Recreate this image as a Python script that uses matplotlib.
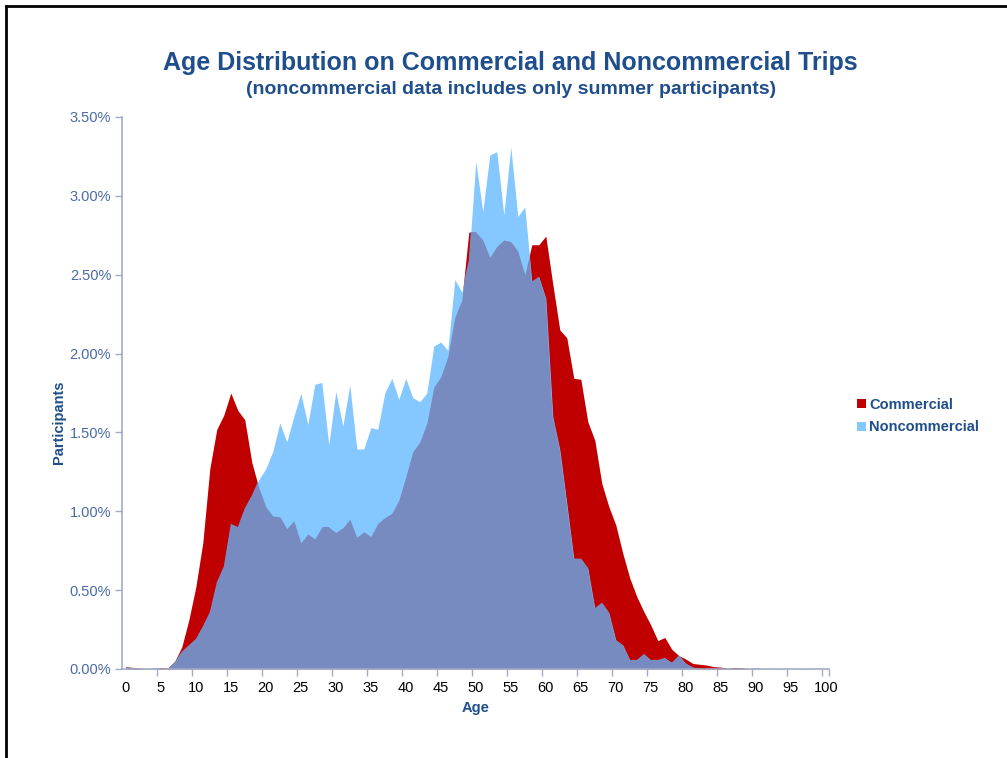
import numpy as np
import matplotlib
matplotlib.use("Agg")
import matplotlib.pyplot as plt
from matplotlib.patches import Patch
from matplotlib.lines import Line2D
from matplotlib.ticker import FixedLocator, FuncFormatter

plt.rcParams['font.family'] = ['Liberation Sans', 'DejaVu Sans']

ages = list(range(0, 101))

commercial = [
    0.015, 0.01, 0.005, 0.0, 0.0, 0.01, 0.005, 0.05, 0.14, 0.31,
    0.52, 0.80, 1.27, 1.52, 1.61, 1.75, 1.64, 1.58, 1.31, 1.15,
    1.03, 0.97, 0.966, 0.89, 0.94, 0.80, 0.856, 0.825, 0.90, 0.90,
    0.866, 0.895, 0.95, 0.835, 0.87, 0.84, 0.924, 0.96, 0.987, 1.07,
    1.22, 1.378, 1.44, 1.557, 1.786, 1.853, 1.98, 2.23, 2.34, 2.77,
    2.77, 2.72, 2.61, 2.68, 2.72, 2.71, 2.65, 2.50, 2.69, 2.69,
    2.745, 2.44, 2.15, 2.10, 1.843, 1.837, 1.568, 1.45, 1.177, 1.03,
    0.913, 0.733, 0.576, 0.459, 0.364, 0.279, 0.18, 0.20, 0.125, 0.085,
    0.063, 0.035, 0.03, 0.025, 0.015, 0.012, 0.004, 0.01, 0.008, 0.0,
    0.0, 0.0, 0.0, 0.0, 0.0, 0.0, 0.0, 0.0, 0.0, 0.0,
    0.0,
]

noncommercial = [
    0.01, 0.005, 0.0, 0.0, 0.01, 0.0, 0.0, 0.046, 0.11, 0.15,
    0.19, 0.27, 0.36, 0.55, 0.65, 0.92, 0.90, 1.02, 1.10, 1.20,
    1.27, 1.38, 1.56, 1.44, 1.60, 1.748, 1.55, 1.805, 1.817, 1.42,
    1.76, 1.54, 1.80, 1.395, 1.395, 1.53, 1.52, 1.75, 1.843, 1.71,
    1.843, 1.72, 1.695, 1.75, 2.048, 2.073, 2.02, 2.47, 2.39, 2.59,
    3.22, 2.90, 3.26, 3.28, 2.88, 3.31, 2.87, 2.93, 2.456, 2.487,
    2.35, 1.60, 1.39, 1.05, 0.70, 0.70, 0.64, 0.385, 0.42, 0.357,
    0.183, 0.152, 0.057, 0.057, 0.095, 0.057, 0.057, 0.07, 0.04, 0.085,
    0.035, 0.01, 0.0, 0.0, 0.0, 0.0, 0.0, 0.0, 0.0, 0.0,
    0.01, 0.0, 0.0, 0.0, 0.0, 0.0, 0.0, 0.0, 0.0, 0.0,
    0.0,
]

x_tick_labels = [str(v) for v in range(0, 101, 5)]
y_ticks = [0.0, 0.5, 1.0, 1.5, 2.0, 2.5, 3.0, 3.5]

RED = '#C00000'
LIGHT = '#85C8FF'
OVERLAP = '#788BC0'
NAVY = '#1F4E8C'
TICKBLUE = '#4A6AA5'
AXISCOL = '#A3AAC6'

fig = plt.figure(figsize=(10.07, 7.58), dpi=100)
ax = fig.add_axes([122.3 / 1007, (758 - 669) / 758, 707 / 1007, 552 / 758])

x = np.array(ages, dtype=float)
c = np.array(commercial)
n = np.array(noncommercial)

ax.fill_between(x, 0, c, color=RED, linewidth=0, zorder=2)
blue = ax.fill_between(x, 0, n, color=LIGHT, linewidth=0, zorder=3)
ov = ax.fill_between(x, 0, c, color=OVERLAP, linewidth=0, zorder=4)
ov.set_clip_path(blue.get_paths()[0], ax.transData)

ax.set_xlim(-0.5, 100.5)
ax.set_ylim(0, 3.5)

# y axis
ax.set_yticks(y_ticks)
ax.yaxis.set_major_formatter(FuncFormatter(lambda v, p: f"{v:.2f}%"))
ax.tick_params(axis='y', which='major', direction='out', length=5, width=1,
               color=AXISCOL, labelcolor=TICKBLUE, labelsize=10.5, pad=3)

# x axis: labels at category centres, tick marks at category boundaries
ax.xaxis.set_major_locator(FixedLocator(list(range(0, 101, 5))))
ax.set_xticklabels(x_tick_labels)
ax.xaxis.set_minor_locator(FixedLocator([v - 0.5 for v in range(5, 101, 5)] + [100.5]))
ax.tick_params(axis='x', which='major', length=0, labelsize=10.5, labelcolor='black', pad=9)
ax.tick_params(axis='x', which='minor', direction='out', length=5, width=1, color=AXISCOL)

for s in ['top', 'right']:
    ax.spines[s].set_visible(False)
for s in ['left', 'bottom']:
    ax.spines[s].set_color(AXISCOL)
    ax.spines[s].set_linewidth(1.2)
    ax.spines[s].set_zorder(6)

ax.set_xlabel('Age', fontsize=10.5, fontweight='bold', color=NAVY, labelpad=4)
ax.set_ylabel('Participants', fontsize=10.5, fontweight='bold', color=NAVY)
ax.yaxis.set_label_coords((66 - 122.3) / 707, (669 - 422) / 552)

fig.text(510 / 1007, 1 - 63 / 758, 'Age Distribution on Commercial and Noncommercial Trips',
         ha='center', va='center', fontsize=18, fontweight='bold', color=NAVY)
fig.text(511 / 1007, 1 - 89 / 758, '(noncommercial data includes only summer participants)',
         ha='center', va='center', fontsize=14, fontweight='bold', color=NAVY)

handles = [Patch(facecolor=RED, edgecolor='none', label='Commercial'),
           Patch(facecolor=LIGHT, edgecolor='none', label='Noncommercial')]
leg = fig.legend(handles=handles, loc='center left', bbox_to_anchor=(857 / 1007, 1 - 416 / 758),
                 frameon=False, fontsize=10.5, handlelength=0.6, handleheight=0.6,
                 handletextpad=0.25, labelspacing=0.6, borderaxespad=0, borderpad=0)
for t in leg.get_texts():
    t.set_color(NAVY)
    t.set_fontweight('bold')

# outer frame (top and left)
fig.add_artist(Line2D([5.5 / 1007, 1.0], [1 - 5.5 / 758, 1 - 5.5 / 758],
                      transform=fig.transFigure, color='black', linewidth=2))
fig.add_artist(Line2D([5.5 / 1007, 5.5 / 1007], [0, 1 - 5.5 / 758],
                      transform=fig.transFigure, color='black', linewidth=2))

fig.savefig('out.png', dpi=100, facecolor='white')
